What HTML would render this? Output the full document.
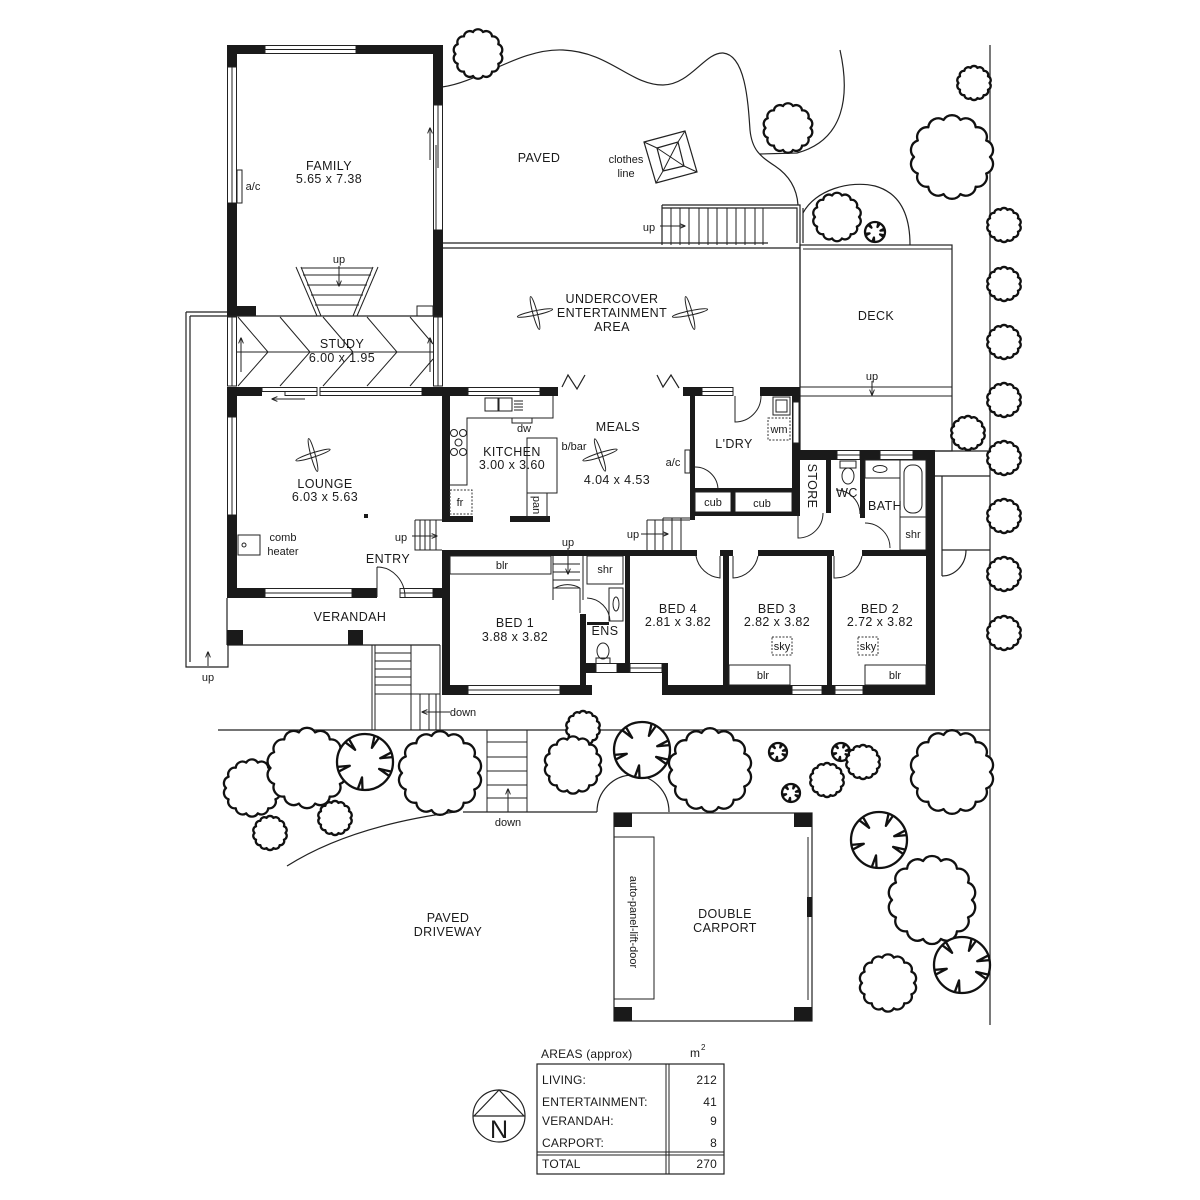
<!DOCTYPE html>
<html><head><meta charset="utf-8"><style>
html,body{margin:0;padding:0;background:#fff}
svg{display:block}
text{font-family:"Liberation Sans",sans-serif;fill:#1a1a1a}
.l{stroke:#222;stroke-width:1.2;fill:none}
.t{stroke:#222;stroke-width:1;fill:none}
.w{fill:#1a1a1a}
.win{fill:#fff;stroke:#222;stroke-width:1}
.tr{fill:#fff;stroke:#111;stroke-width:2.3;vector-effect:non-scaling-stroke;stroke-linejoin:round}
.c{font-size:12.5px;letter-spacing:0.4px;text-anchor:middle}
.s{font-size:11px;text-anchor:middle}
.d{stroke:#333;stroke-width:1;fill:none;stroke-dasharray:2 1.5}
.tb{font-size:12px;letter-spacing:0.2px}
</style></head><body>
<svg width="1200" height="1200" viewBox="0 0 1200 1200" xmlns="http://www.w3.org/2000/svg">
<defs>
<marker id="ah" viewBox="0 0 10 10" refX="9" refY="5" markerWidth="6" markerHeight="6" orient="auto"><path d="M0,1 L10,5 L0,9" fill="none" stroke="#222" stroke-width="1.6"/></marker>
<g id="bush"><path class="tr" d="M50,0 A13 13 0 0 1 45.05,21.69 A13 13 0 0 1 31.17,39.09 A13 13 0 0 1 11.13,48.75 A13 13 0 0 1 -11.13,48.75 A13 13 0 0 1 -31.17,39.09 A13 13 0 0 1 -45.05,21.69 A13 13 0 0 1 -50,0 A13 13 0 0 1 -45.05,-21.69 A13 13 0 0 1 -31.17,-39.09 A13 13 0 0 1 -11.13,-48.75 A13 13 0 0 1 11.13,-48.75 A13 13 0 0 1 31.17,-39.09 A13 13 0 0 1 45.05,-21.69 A13 13 0 0 1 50,0Z"/></g>
<g id="spoke"><circle class="tr" r="50"/><path class="tr" style="fill:none" d="M47,17.1 L25.2,12.3 L43.3,25 M-4.4,49.8 L-5.3,27.5 L-12.9,48.3 M-47,17.1 L-27.2,6.8 L-49.2,8.7 M-35.4,-35.4 L-17.6,-21.8 L-28.7,-41 M17.1,-47 L12.3,-25.2 L25,-43.3 M47,-17.1 L27.2,-6.8 L49.2,-8.7"/></g>
</defs>
<rect width="1200" height="1200" fill="#fff"/>

<!-- site lines -->
<line class="l" x1="990" y1="45" x2="990" y2="1025"/>
<line class="l" x1="218" y1="730" x2="990" y2="730"/>
<line class="l" x1="463" y1="812" x2="597" y2="812"/>
<path class="l" d="M597,812 A36,37 0 0 1 669,812"/>
<path class="l" d="M287,866 Q350,826 455,812"/>
<!-- paved curves -->
<path class="l" d="M442,87 C480,82 520,48 563,50 C610,52 630,85 663,85 C690,85 705,52 723,53 C745,55 748,100 750,130 C752,150 760,156 775,166 C790,176 797,190 798,205"/>
<path class="l" d="M840,50 C850,95 845,140 797,153 L760,154"/>
<path class="l" d="M803,213 C815,190 850,180 875,186 C900,193 910,215 910,245"/>

<!-- clothes line -->
<polygon class="l" points="644,142 685,131 697,172 656,183"/>
<polygon class="l" points="657,148 678,142 684,166 663,171"/>
<path class="t" d="M657,148 L684,166 M678,142 L663,171 M644,142 L657,148 M685,131 L678,142 M697,172 L684,166 M656,183 L663,171"/>

<!-- top stairs -->
<path class="l" d="M662,205 L800,205 L800,387 M662,205 L662,245 M662,208 L797,208 L797,243 M803,208 V243"/>
<path class="t" d="M671,208V245 M680,208V245 M689,208V245 M699,208V245 M708,208V245 M717,208V245 M727,208V245 M736,208V245 M745,208V245 M755,208V245 M763,208V245"/>
<line class="t" x1="660" y1="226" x2="685" y2="226" marker-end="url(#ah)"/>
<text class="s" x="649" y="231">up</text>

<!-- undercover -->
<line class="l" x1="443" y1="243" x2="768" y2="243"/>
<line class="l" x1="443" y1="248" x2="800" y2="248"/>
<!-- deck -->
<rect class="l" x="800" y="245" width="152" height="206"/>
<line class="t" x1="803" y1="249" x2="952" y2="249"/>
<line class="t" x1="800" y1="387" x2="952" y2="387"/>
<line class="t" x1="800" y1="396" x2="952" y2="396"/>
<line class="t" x1="872" y1="381" x2="872" y2="395" marker-end="url(#ah)"/>
<text class="s" x="872" y="380">up</text>
<text class="c" x="876" y="320">DECK</text>
<line class="l" x1="935" y1="451" x2="990" y2="451"/>
<line class="l" x1="935" y1="476" x2="990" y2="476"/>
<path class="l" d="M942,476 V550 M942,550 H990 M942,550 V576 M942,576 A24,26 0 0 0 966,550"/>

<!-- fans -->
<g class="t">
<ellipse cx="535" cy="313" rx="18" ry="2.2" transform="rotate(-12 535 313)"/>
<ellipse cx="535" cy="313" rx="17" ry="2.2" transform="rotate(75 535 313)"/>
<ellipse cx="690" cy="313" rx="18" ry="2.2" transform="rotate(-12 690 313)"/>
<ellipse cx="690" cy="313" rx="17" ry="2.2" transform="rotate(75 690 313)"/>
<ellipse cx="313" cy="455" rx="18" ry="2.2" transform="rotate(-18 313 455)"/>
<ellipse cx="313" cy="455" rx="17" ry="2.2" transform="rotate(75 313 455)"/>
<ellipse cx="600" cy="455" rx="18" ry="2.2" transform="rotate(-18 600 455)"/>
<ellipse cx="600" cy="455" rx="17" ry="2.2" transform="rotate(72 600 455)"/>
</g>
<text class="c" x="612" y="303">UNDERCOVER</text>
<text class="c" x="612" y="317">ENTERTAINMENT</text>
<text class="c" x="612" y="331">AREA</text>
<text class="c" x="539" y="162">PAVED</text>
<text class="s" x="626" y="163">clothes</text>
<text class="s" x="626" y="177">line</text>

<!-- FAMILY -->
<rect class="w" x="227" y="45" width="38" height="9"/>
<rect class="win" x="265" y="45.5" width="91" height="8"/><line class="t" x1="265" y1="49.5" x2="356" y2="49.5"/>
<rect class="w" x="356" y="45" width="87" height="9"/>
<rect class="w" x="227" y="45" width="10" height="22"/>
<rect class="win" x="227.5" y="67" width="9" height="136"/><line class="t" x1="232" y1="67" x2="232" y2="203"/>
<rect class="w" x="227" y="203" width="10" height="113"/>
<rect class="t" x="237" y="170" width="5" height="33"/>
<text class="s" x="253" y="190">a/c</text>
<rect class="w" x="433" y="45" width="10" height="60"/>
<rect class="win" x="433.5" y="105" width="9" height="125"/>
<line class="t" x1="438" y1="105" x2="438" y2="168"/><line class="t" x1="436" y1="145" x2="436" y2="230"/>
<line class="t" x1="430" y1="160" x2="430" y2="128" marker-end="url(#ah)"/>
<rect class="w" x="433" y="230" width="10" height="86"/>
<rect class="w" x="227" y="306" width="29" height="10"/>
<line class="l" x1="227" y1="316" x2="443" y2="316"/>
<rect class="t" x="417" y="306" width="16" height="10"/>
<path class="t" d="M296,267 L317,316 M301,267 L321,316 M378,267 L357,316 M373,267 L353,316 M301,268 H373 M303,275 H371 M307,285 H367 M311,295 H363 M315,305 H359"/>
<line class="t" x1="339" y1="266" x2="339" y2="286" marker-end="url(#ah)"/>
<text class="s" x="339" y="263">up</text>
<text class="c" x="329" y="170">FAMILY</text>
<text class="c" x="329" y="183">5.65 x 7.38</text>

<!-- STUDY -->
<rect class="win" x="227.5" y="317" width="9" height="69"/><line class="t" x1="232" y1="317" x2="232" y2="386"/>
<rect class="win" x="433.5" y="317" width="9" height="69"/><line class="t" x1="438" y1="317" x2="438" y2="386"/>
<line class="t" x1="241" y1="372" x2="241" y2="338" marker-end="url(#ah)"/>
<line class="t" x1="430" y1="372" x2="430" y2="338" marker-end="url(#ah)"/>
<path class="t" d="M238,317 L268,352 L238,386 M280,317 L310,352 L280,386 M323,317 L353,352 L323,386 M367,317 L397,352 L367,386 M410,317 L433,344 M410,386 L433,359 M237,352 H433"/>
<text class="c" x="342" y="348">STUDY</text>
<text class="c" x="342" y="362">6.00 x 1.95</text>

<!-- left strip -->
<path class="l" d="M186,312 H227 M190,316 H227 M186,312 V667 H228 V645 M190,316 V662"/>
<line class="t" x1="208" y1="666" x2="208" y2="652" marker-end="url(#ah)"/>
<text class="s" x="208" y="681">up</text>

<!-- LOUNGE -->
<rect class="w" x="227" y="387" width="35" height="9"/>
<rect class="win" x="262" y="387.5" width="55" height="4"/><rect class="win" x="285" y="391.5" width="32" height="4"/>
<line class="t" x1="305" y1="399" x2="272" y2="399" marker-end="url(#ah)"/>
<rect class="win" x="320" y="387.5" width="102" height="8"/><line class="t" x1="320" y1="391.5" x2="422" y2="391.5"/>
<rect class="w" x="422" y="387" width="46" height="9"/>
<rect class="w" x="227" y="387" width="10" height="30"/>
<rect class="win" x="227.5" y="417" width="9" height="98"/><line class="t" x1="232" y1="417" x2="232" y2="515"/>
<rect class="w" x="227" y="515" width="10" height="83"/>
<rect class="w" x="227" y="588" width="38" height="10"/>
<rect class="win" x="265" y="588.5" width="87" height="9"/><line class="t" x1="265" y1="593" x2="352" y2="593"/>
<rect class="w" x="352" y="588" width="25" height="10"/>
<rect class="win" x="400" y="588.5" width="33" height="9"/><line class="t" x1="400" y1="593" x2="433" y2="593"/>
<rect class="w" x="433" y="588" width="17" height="10"/>
<path class="t" d="M377,567 V597 M377,567 A28,30 0 0 1 405,597"/>
<rect class="t" x="238" y="535" width="22" height="20"/><circle class="t" cx="244" cy="545" r="2"/>
<rect class="w" x="364" y="514" width="4" height="4"/>
<text class="c" x="325" y="488">LOUNGE</text>
<text class="c" x="325" y="501">6.03 x 5.63</text>
<text class="s" x="283" y="541">comb</text>
<text class="s" x="283" y="555">heater</text>
<text class="c" x="388" y="563">ENTRY</text>
<!-- entry stairs -->
<path class="t" d="M415,520 H450 M415,520 V550 H442 M420,520V550 M425,520V550 M430,520V550 M436,520V550"/>
<line class="t" x1="412" y1="536" x2="437" y2="536" marker-end="url(#ah)"/>
<text class="s" x="401" y="541">up</text>

<!-- VERANDAH -->
<line class="l" x1="227" y1="645" x2="440" y2="645"/>
<line class="l" x1="227" y1="598" x2="227" y2="645"/>
<rect class="w" x="227" y="630" width="16" height="15"/>
<rect class="w" x="348" y="630" width="15" height="15"/>
<text class="c" x="350" y="621">VERANDAH</text>
<path class="t" d="M372,645 V730 H440 V645 M375,645 V730 M411,645 V730 M375,653 H411 M375,661 H411 M375,669 H411 M375,677 H411 M375,685 H411 M375,694 H440 M420,694 V730 M429,694 V730 M436,694 V730"/>
<line class="t" x1="450" y1="712" x2="422" y2="712" marker-end="url(#ah)"/>
<text class="s" x="463" y="716">down</text>
<!-- front stairs -->
<path class="t" d="M487,730 V812 M527,730 V812 M487,742 H527 M487,757 H527 M487,771 H527 M487,785 H527 M487,798 H527"/>
<line class="t" x1="508" y1="812" x2="508" y2="789" marker-end="url(#ah)"/>
<text class="s" x="508" y="826">down</text>

<!-- KITCHEN / MEALS -->
<rect class="win" x="468" y="387.5" width="72" height="8"/><line class="t" x1="468" y1="391.5" x2="540" y2="391.5"/>
<rect class="w" x="540" y="387" width="18" height="9"/>
<path class="l" d="M562,387 L568,375 L577,389 L585,375"/>
<path class="l" d="M657,375 L663,387 L671,375 L679,388"/>
<rect class="w" x="442" y="387" width="8" height="131"/>
<path class="t" d="M553,396 V418 H467 V485 H450"/>
<rect class="t" x="485" y="398" width="13" height="13"/><rect class="t" x="499" y="398" width="13" height="13"/>
<path class="t" d="M514,401 H523 M514,404 H523 M514,407 H523 M514,410 H523"/>
<rect class="t" x="512" y="418" width="20" height="5"/>
<g class="t"><circle cx="454" cy="433" r="3.5"/><circle cx="463" cy="433" r="3.5"/><circle cx="458.5" cy="442.5" r="3.5"/><circle cx="454" cy="452" r="3.5"/><circle cx="463" cy="452" r="3.5"/></g>
<rect class="d" x="450" y="490" width="22" height="24"/>
<text class="s" x="460" y="506">fr</text>
<rect class="w" x="442" y="516" width="31" height="6"/>
<rect class="w" x="510" y="516" width="40" height="6"/>
<rect class="t" x="527" y="438" width="30" height="55"/>
<rect class="t" x="527" y="493" width="20" height="24"/>
<text class="s" transform="translate(537,505) rotate(90)" y="4">pan</text>
<text class="s" x="524" y="432">dw</text>
<text class="c" x="512" y="456">KITCHEN</text>
<text class="c" x="512" y="469">3.00 x 3.60</text>
<text class="s" x="574" y="450">b/bar</text>
<text class="c" x="618" y="431">MEALS</text>
<text class="c" x="617" y="484">4.04 x 4.53</text>
<!-- meals stairs -->
<path class="t" d="M647,520 H690 M663,518 H690 M647,520 V550 M655,520 V550 M663,518 V550 M672,518 V550 M681,518 V550"/>
<line class="t" x1="641" y1="534" x2="668" y2="534" marker-end="url(#ah)"/>
<text class="s" x="633" y="538">up</text>

<!-- L'DRY -->
<rect class="w" x="683" y="387" width="19" height="9"/>
<rect class="win" x="702" y="387.5" width="31" height="8"/><line class="t" x1="702" y1="391.5" x2="733" y2="391.5"/>
<rect class="w" x="760" y="387" width="40" height="9"/>
<path class="t" d="M735,396 V422 A26,26 0 0 0 761,396"/>
<rect class="w" x="690" y="387" width="5" height="133"/>
<rect class="t" x="685" y="450" width="5" height="23"/>
<text class="s" x="673" y="466">a/c</text>
<path class="t" d="M695,467 A23,23 0 0 1 718,490"/>
<rect class="w" x="792" y="387" width="8" height="126"/>
<rect class="win" x="793" y="402" width="6" height="41"/>
<rect class="t" x="773" y="397" width="17" height="18"/><rect class="t" x="776" y="400" width="11" height="12"/>
<rect class="d" x="768" y="418" width="22" height="22"/>
<text class="s" x="779" y="433">wm</text>
<text class="c" x="734" y="448">L'DRY</text>
<rect class="w" x="695" y="488" width="97" height="4"/>
<rect class="t" x="695" y="492" width="36" height="20"/>
<rect class="w" x="731" y="492" width="4" height="20"/>
<rect class="t" x="735" y="492" width="57" height="20"/>
<text class="s" x="713" y="506">cub</text>
<text class="s" x="762" y="507">cub</text>
<rect class="w" x="690" y="512" width="110" height="4"/>

<!-- STORE / WC / BATH -->
<rect class="w" x="793" y="450" width="44" height="10"/>
<rect class="win" x="837" y="450.5" width="23" height="9"/><line class="t" x1="837" y1="455" x2="860" y2="455"/>
<rect class="w" x="860" y="450" width="20" height="10"/>
<rect class="win" x="880" y="450.5" width="33" height="9"/><line class="t" x1="880" y1="455" x2="913" y2="455"/>
<rect class="w" x="913" y="450" width="22" height="10"/>
<rect class="w" x="926" y="450" width="9" height="245"/>
<rect class="w" x="792" y="450" width="7" height="63"/>
<rect class="w" x="826" y="458" width="5" height="55"/>
<rect class="w" x="860" y="458" width="5" height="60"/>
<path class="t" d="M798,513 V538 A25,25 0 0 0 823,513"/>
<path class="t" d="M836,490 A24,24 0 0 1 860,514"/>
<path class="t" d="M865,523 A25,25 0 0 1 890,548"/>
<rect class="t" x="840" y="461" width="16" height="7"/>
<ellipse class="t" cx="848" cy="476" rx="6" ry="8"/>
<rect class="t" x="865" y="460" width="35" height="18"/><ellipse class="t" cx="880" cy="469" rx="7" ry="3.5"/>
<rect class="t" x="900" y="460" width="26" height="57"/><rect class="t" x="904" y="465" width="18" height="48" rx="8"/>
<rect class="t" x="900" y="517" width="26" height="33"/>
<text class="s" x="913" y="538">shr</text>
<text class="c" transform="translate(812,486) rotate(90)" y="4">STORE</text>
<text class="c" x="847" y="497">WC</text>
<text class="c" x="885" y="510">BATH</text>

<!-- BEDROOM ROW -->
<rect class="w" x="442" y="550" width="255" height="6"/>
<rect class="w" x="720" y="550" width="13" height="6"/>
<rect class="w" x="758" y="550" width="76" height="6"/>
<rect class="w" x="862" y="550" width="73" height="6"/>
<path class="t" d="M720,556 V578 A27,27 0 0 1 696,556"/>
<path class="t" d="M733,556 V578 A27,27 0 0 0 758,556"/>
<path class="t" d="M834,556 V578 A27,27 0 0 0 862,556"/>
<rect class="w" x="442" y="550" width="8" height="145"/>
<rect class="w" x="442" y="685" width="26" height="10"/>
<rect class="win" x="468" y="685.5" width="92" height="9"/><line class="t" x1="468" y1="690" x2="560" y2="690"/>
<rect class="w" x="560" y="685" width="32" height="10"/>
<line class="t" x1="583" y1="556" x2="583" y2="600"/>
<rect class="w" x="580" y="614" width="6" height="81"/>
<path class="t" d="M580,588 V613 M580,588 A25,25 0 0 0 555,588"/>
<rect class="t" x="450" y="556" width="101" height="18"/>
<text class="s" x="502" y="569">blr</text>
<path class="t" d="M553,556 V600 M553,564 H580 M553,572 H580 M553,580 H580 M553,588 H580"/>
<line class="t" x1="568" y1="548" x2="568" y2="574" marker-end="url(#ah)"/>
<text class="s" x="568" y="546">up</text>
<text class="c" x="515" y="627">BED 1</text>
<text class="c" x="515" y="641">3.88 x 3.82</text>
<!-- ENS -->
<rect class="t" x="587" y="556" width="36" height="28"/>
<text class="s" x="605" y="573">shr</text>
<rect class="t" x="609" y="588" width="14" height="33"/><ellipse class="t" cx="616" cy="604" rx="3" ry="7"/>
<rect class="w" x="587" y="622" width="22" height="3"/>
<path class="t" d="M587,598 A24,24 0 0 1 610,621"/>
<text class="c" x="605" y="635">ENS</text>
<ellipse class="t" cx="603" cy="651" rx="6" ry="8"/><rect class="t" x="596" y="658" width="14" height="6"/>
<rect class="w" x="586" y="663" width="10" height="10"/>
<rect class="win" x="596" y="663.5" width="21" height="9"/>
<rect class="w" x="617" y="663" width="13" height="10"/>
<rect class="w" x="625" y="550" width="5" height="123"/>
<rect class="win" x="630" y="663.5" width="32" height="9"/><line class="t" x1="630" y1="668" x2="662" y2="668"/>
<rect class="w" x="662" y="663" width="6" height="32"/>
<rect class="w" x="662" y="685" width="130" height="10"/>
<rect class="win" x="792" y="685.5" width="30" height="9"/><line class="t" x1="792" y1="690" x2="822" y2="690"/>
<rect class="w" x="822" y="685" width="13" height="10"/>
<rect class="win" x="835" y="685.5" width="28" height="9"/><line class="t" x1="835" y1="690" x2="863" y2="690"/>
<rect class="w" x="863" y="685" width="72" height="10"/>
<rect class="w" x="723" y="550" width="6" height="145"/>
<rect class="w" x="827" y="550" width="5" height="145"/>
<rect class="t" x="729" y="665" width="61" height="20"/>
<text class="s" x="763" y="679">blr</text>
<rect class="t" x="865" y="665" width="61" height="20"/>
<text class="s" x="895" y="679">blr</text>
<rect class="d" x="772" y="637" width="20" height="18"/>
<text class="s" x="782" y="650">sky</text>
<rect class="d" x="858" y="637" width="20" height="18"/>
<text class="s" x="868" y="650">sky</text>
<text class="c" x="678" y="613">BED 4</text>
<text class="c" x="678" y="626">2.81 x 3.82</text>
<text class="c" x="777" y="613">BED 3</text>
<text class="c" x="777" y="626">2.82 x 3.82</text>
<text class="c" x="880" y="613">BED 2</text>
<text class="c" x="880" y="626">2.72 x 3.82</text>

<!-- CARPORT -->
<rect class="l" x="614" y="813" width="198" height="208"/>
<line class="t" x1="808" y1="837" x2="808" y2="1000"/>
<rect class="w" x="807" y="897" width="5" height="20"/>
<rect class="w" x="614" y="813" width="18" height="14"/>
<rect class="w" x="794" y="813" width="18" height="14"/>
<rect class="w" x="614" y="1007" width="18" height="14"/>
<rect class="w" x="794" y="1007" width="18" height="14"/>
<rect class="t" x="614" y="837" width="40" height="162"/>
<text class="s" transform="translate(634,922) rotate(90)" y="4">auto-panel-lift-door</text>
<text class="c" x="725" y="918">DOUBLE</text>
<text class="c" x="725" y="932">CARPORT</text>
<text class="c" x="448" y="922">PAVED</text>
<text class="c" x="448" y="936">DRIVEWAY</text>

<!-- TREES -->
<use href="#bush" transform="translate(478,54) scale(0.45)"/>
<use href="#bush" transform="translate(788,128) scale(0.45)"/>
<use href="#bush" transform="translate(837,217) scale(0.44)"/>
<use href="#bush" transform="translate(974,83) scale(0.31)"/>
<use href="#bush" transform="translate(952,157) scale(0.76)"/>
<use href="#spoke" transform="translate(875,232) scale(0.2)"/>
<use href="#bush" transform="translate(1004,225) scale(0.31)"/>
<use href="#bush" transform="translate(1004,284) scale(0.31)"/>
<use href="#bush" transform="translate(1004,342) scale(0.31)"/>
<use href="#bush" transform="translate(1004,400) scale(0.31)"/>
<use href="#bush" transform="translate(1004,458) scale(0.31)"/>
<use href="#bush" transform="translate(1004,516) scale(0.31)"/>
<use href="#bush" transform="translate(1004,574) scale(0.31)"/>
<use href="#bush" transform="translate(1004,633) scale(0.31)"/>
<use href="#bush" transform="translate(968,433) scale(0.31)"/>
<use href="#bush" transform="translate(252,788) scale(0.52)"/>
<use href="#bush" transform="translate(307,768) scale(0.73)"/>
<use href="#spoke" transform="translate(365,762) scale(0.56)"/>
<use href="#bush" transform="translate(440,773) scale(0.76)"/>
<use href="#bush" transform="translate(270,833) scale(0.31)"/>
<use href="#bush" transform="translate(335,818) scale(0.31)"/>
<use href="#bush" transform="translate(583,728) scale(0.31)"/>
<use href="#bush" transform="translate(573,765) scale(0.52)"/>
<use href="#spoke" transform="translate(642,750) scale(0.56)"/>
<use href="#bush" transform="translate(710,770) scale(0.76)"/>
<use href="#spoke" transform="translate(778,752) scale(0.18)"/>
<use href="#spoke" transform="translate(791,793) scale(0.18)"/>
<use href="#spoke" transform="translate(841,752) scale(0.18)"/>
<use href="#bush" transform="translate(827,780) scale(0.31)"/>
<use href="#bush" transform="translate(863,762) scale(0.31)"/>
<use href="#bush" transform="translate(952,772) scale(0.76)"/>
<use href="#spoke" transform="translate(879,840) scale(0.56)"/>
<use href="#bush" transform="translate(932,900) scale(0.8)"/>
<use href="#spoke" transform="translate(962,965) scale(0.56)"/>
<use href="#bush" transform="translate(888,983) scale(0.52)"/>

<!-- AREAS TABLE -->
<text class="tb" x="541" y="1058">AREAS (approx)</text>
<text class="tb" x="690" y="1057">m</text><text style="font-size:8px" x="701" y="1050">2</text>
<rect class="l" x="537" y="1064" width="187" height="110"/>
<line class="t" x1="666" y1="1064" x2="666" y2="1174"/>
<line class="t" x1="669" y1="1064" x2="669" y2="1174"/>
<line class="t" x1="537" y1="1152" x2="724" y2="1152"/>
<line class="t" x1="537" y1="1155" x2="724" y2="1155"/>
<text class="tb" x="542" y="1084">LIVING:</text>
<text class="tb" x="542" y="1106">ENTERTAINMENT:</text>
<text class="tb" x="542" y="1125">VERANDAH:</text>
<text class="tb" x="542" y="1147">CARPORT:</text>
<text class="tb" x="542" y="1168">TOTAL</text>
<text class="tb" x="717" y="1084" text-anchor="end">212</text>
<text class="tb" x="717" y="1106" text-anchor="end">41</text>
<text class="tb" x="717" y="1125" text-anchor="end">9</text>
<text class="tb" x="717" y="1147" text-anchor="end">8</text>
<text class="tb" x="717" y="1168" text-anchor="end">270</text>
<!-- North -->
<circle class="l" cx="499" cy="1116" r="26"/>
<path class="l" d="M473,1116 H525 M474,1116 L499,1090 L524,1116"/>
<text x="499" y="1138" text-anchor="middle" style="font-size:25px">N</text>
</svg>
</body></html>
